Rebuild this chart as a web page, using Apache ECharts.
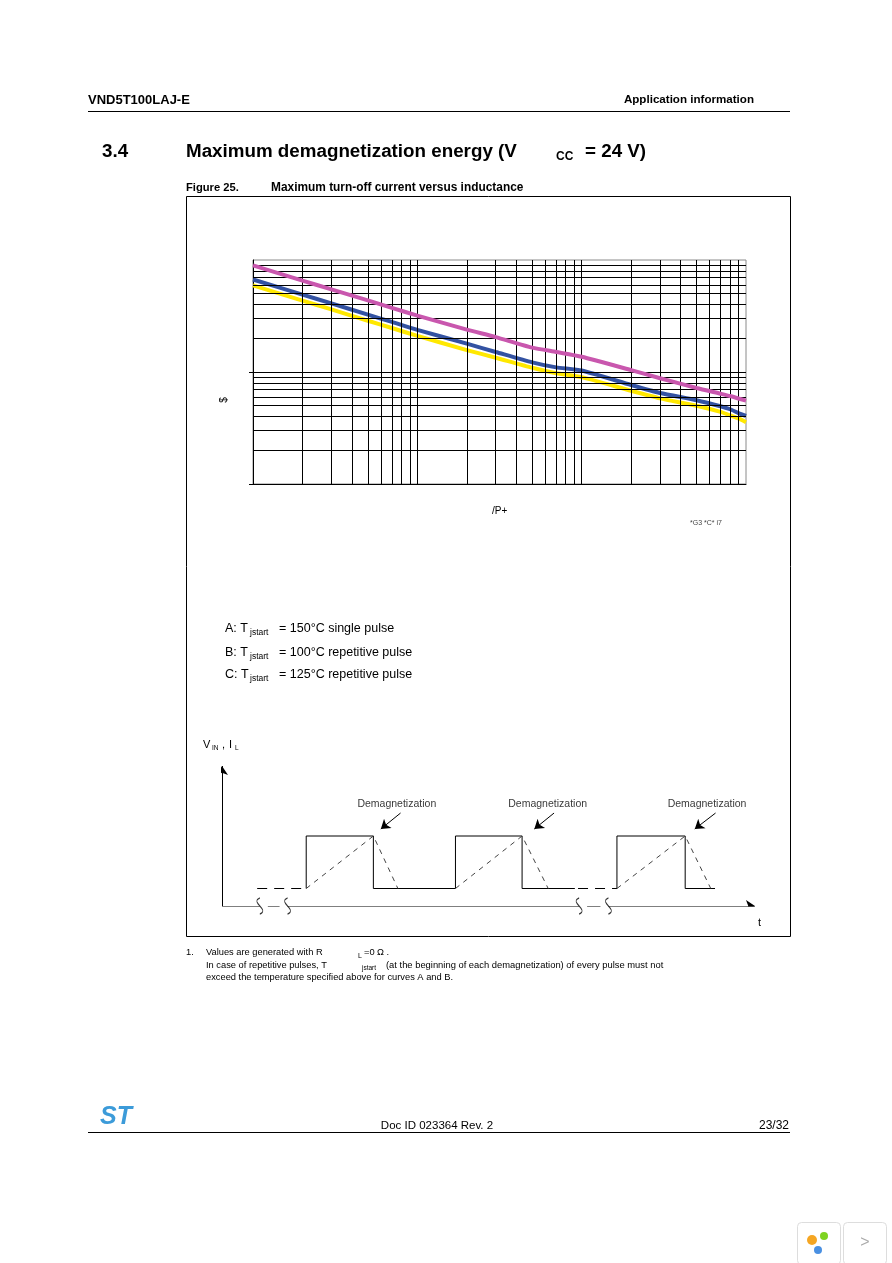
<!DOCTYPE html>
<html><head><meta charset="utf-8">
<script src="https://cdn.jsdelivr.net/npm/echarts@6/dist/echarts.min.js"></script>
<style>html,body{margin:0;padding:0;background:#fff}#c{width:892px;height:1263px}</style>
</head><body><div id="c"></div>
<script>
// ---- Chart data ----
const inductanceMH = [0.1,0.2,0.3,0.5,0.7,1,2,3,5,7,10,20,30,50,70,80,90,100];
const curveA = [89.4,65.5,54.7,43.6,37.4,31.9,23.9,20.5,16.5,15.1,13.7,10.4,8.8,7.2,6.4,6.1,5.8,5.55];
const curveB = [67,49,41,32.5,28,23.8,17.9,15.1,12.2,11.0,10.3,7.65,6.5,5.6,4.95,4.65,4.3,4.05];
const curveC = [59.3,43.4,36.2,28.7,24.7,21,15.7,13.4,10.9,9.75,9.0,6.8,5.82,5.0,4.4,4.1,3.85,3.56];
const seriesNames = ['A','B','C'];
const xGridLines = [0.2,0.3,0.4,0.5,0.6,0.7,0.8,0.9,1,2,3,4,5,6,7,8,9,10,20,30,40,50,60,70,80,90];
const yGridLines = [2,3,4,5,6,7,8,9,10,20,30,40,50,60,70,80,90];
const yTickValues = [1,10];
const legendLines = ['= 150°C single pulse','= 100°C repetitive pulse','= 125°C repetitive pulse'];

// ---- Waveform diagram data (schematic units: t 0..100, level 0..10) ----
const lowLevel = 1.25, highLevel = 5;
const pulseRise = [15.8, 43.8, 74.1];
const pulseFall = [28.4, 56.3, 86.9];
const decayEnd = [33, 61.2, 91.7];
const lowSegEnds = [66.2, 92.5];
const dashedLow = [[6.6,15.8],[66.8,74.1]];
const axisBreaks = [7.1, 12.3, 67, 72.5];
const demagLabelPos = [[32.8,7.3],[61.1,7.3],[91,7.3]];
const demagArrowStart = [[33.5,6.64],[62.3,6.64],[92.6,6.64]];
const demagArrowEnd = [[29.8,5.5],[58.6,5.5],[88.7,5.5]];

const F = 'Liberation Sans, Arial, Helvetica, sans-serif';
const chart = echarts.init(document.getElementById('c'), null, {renderer:'canvas'});

const curveData = [curveA, curveB, curveC].map(arr => inductanceMH.map((x,i)=>[x, arr[i]]));
const curveColors = ['#C957AE','#3352A2','#FFE800'];

const vinSolid = [
  [pulseRise[0],lowLevel],[pulseRise[0],highLevel],[pulseFall[0],highLevel],[pulseFall[0],lowLevel],
  [pulseRise[1],lowLevel],[pulseRise[1],highLevel],[pulseFall[1],highLevel],[pulseFall[1],lowLevel],[lowSegEnds[0],lowLevel],
  null,
  [pulseRise[2],lowLevel],[pulseRise[2],highLevel],[pulseFall[2],highLevel],[pulseFall[2],lowLevel],[lowSegEnds[1],lowLevel]
];
const ilDashed = [];
for (let i=0;i<3;i++){ ilDashed.push([pulseRise[i],lowLevel],[pulseFall[i],highLevel],[decayEnd[i],lowLevel]); if(i<2) ilDashed.push(null); }
const lowDashed = [];
dashedLow.forEach((s,i)=>{ lowDashed.push([s[0],lowLevel],[s[1],lowLevel]); if(i<dashedLow.length-1) lowDashed.push(null); });

function txt(text, x, y, size, opts) {
  opts = opts || {};
  return { type:'text', silent:true, z:10, rotation: opts.rot || 0, x: opts.rot ? x : 0, y: opts.rot ? y : 0,
    style: { text, x: opts.rot ? 0 : x, y: opts.rot ? 0 : y, fill: opts.color || '#000',
      font: (opts.weight||'normal') + ' ' + size + 'px ' + (opts.family || F),
      textAlign: opts.align || 'left', textVerticalAlign: 'middle' } };
}

const graphics = [
  txt('VND5T100LAJ-E', 88, 100, 13, {weight:'bold'}),
  txt('Application information', 754, 100, 11.6, {weight:'bold', align:'right'}),
  { type:'line', silent:true, shape:{x1:88,y1:111.5,x2:790,y2:111.5}, style:{stroke:'#000', lineWidth:1} },
  txt('3.4', 102, 152, 18.8, {weight:'bold'}),
  txt('Maximum demagnetization energy (V', 186, 152, 18.8, {weight:'bold'}),
  txt('CC', 556, 157, 12, {weight:'bold'}),
  txt('= 24 V)', 585, 152, 18.8, {weight:'bold'}),
  txt('Figure 25.', 186, 188, 11.2, {weight:'bold'}),
  txt('Maximum turn-off current versus inductance', 271, 188, 11.9, {weight:'bold'}),
  { type:'rect', silent:true, z:0, shape:{x:186.5,y:196.5,width:604,height:740}, style:{fill:'none', stroke:'#000', lineWidth:1} },
  txt('$', 224, 400, 10, {rot: Math.PI/2, align:'center'}),
  txt('/P+', 492, 511, 10),
  txt('*G3 *C* i7', 690, 523, 7, {color:'#444'}),
  txt('A: T', 225, 629, 12.5), txt('jstart', 250, 633, 8.5), txt(legendLines[0], 279, 629, 12.5),
  txt('B: T', 225, 653, 12.5), txt('jstart', 250, 657, 8.5), txt(legendLines[1], 279, 653, 12.5),
  txt('C: T', 225, 675, 12.5), txt('jstart', 250, 679, 8.5), txt(legendLines[2], 279, 675, 12.5),
  txt('V', 203, 745, 11), txt('IN', 212, 748, 6.5), txt(',', 222, 745, 11), txt('I', 229, 745, 11), txt('L', 235, 748, 6.5),
  txt('t', 758, 923, 11),
  txt('1.', 186, 952, 9.3), txt('Values are generated with R', 206, 952, 9.3), txt('L', 358, 956, 7), txt('=0', 364, 952, 9.3), txt('Ω .', 377, 952, 9.3),
  txt('In case of repetitive pulses, T', 206, 965, 9.3), txt('jstart', 362, 968, 6.5),
  txt('(at the beginning of each demagnetization) of every pulse must not', 386, 965, 9.4),
  txt('exceed the temperature specified above for curves A and B.', 206, 977, 9.3),
  txt('ST', 100, 1117, 25, {weight:'italic bold', color:'#3C9BD9'}),
  txt('Doc ID 023364 Rev. 2', 437, 1126, 11.5, {align:'center'}),
  txt('23/32', 789, 1126, 12, {align:'right'}),
  { type:'line', silent:true, shape:{x1:88,y1:1132.5,x2:790,y2:1132.5}, style:{stroke:'#000', lineWidth:1} },
  { type:'rect', silent:true, shape:{x:797.5,y:1222.5,width:43,height:42,r:4}, style:{fill:'#fff', stroke:'#ddd', lineWidth:1} },
  { type:'rect', silent:true, shape:{x:843.5,y:1222.5,width:43,height:42,r:4}, style:{fill:'#fff', stroke:'#ddd', lineWidth:1} },
  { type:'circle', silent:true, shape:{cx:812,cy:1240,r:5}, style:{fill:'#F5A623'} },
  { type:'circle', silent:true, shape:{cx:824,cy:1236,r:4}, style:{fill:'#7ED321'} },
  { type:'circle', silent:true, shape:{cx:818,cy:1250,r:4}, style:{fill:'#4A90E2'} },
  txt('>', 865, 1243, 16, {align:'center', color:'#aaa'})
];

const option = {
  backgroundColor:'#fff',
  animation:false,
  grid:[
    {left:253, top:260, width:493, height:224, show:true, borderColor:'#8a8a8a', borderWidth:1, backgroundColor:'transparent'},
    {left:222, top:766, width:533, height:140, show:false}
  ],
  xAxis:[
    {gridIndex:0, type:'log', logBase:10, min:0.1, max:100, axisLine:{show:true, lineStyle:{color:'#000', width:1}}, axisTick:{show:false}, axisLabel:{show:false}, splitLine:{show:false}},
    {gridIndex:1, type:'value', min:0, max:100, show:false}
  ],
  yAxis:[
    {gridIndex:0, type:'log', logBase:10, min:1, max:100, axisLine:{show:true, lineStyle:{color:'#000', width:1}}, axisTick:{show:false}, axisLabel:{show:false}, splitLine:{show:false}},
    {gridIndex:1, type:'value', min:0, max:10, show:false}
  ],
  graphic:{elements:graphics},
  series:[
    { name:'grid', type:'line', xAxisIndex:0, yAxisIndex:0, data:[[0.1,1]], showSymbol:false, z:1, silent:true,
      lineStyle:{width:0},
      markLine:{ silent:true, symbol:['none','none'], label:{show:false}, animation:false,
        lineStyle:{color:'#000', width:1, type:'solid'},
        emphasis:{disabled:true},
        data: xGridLines.map(v=>({xAxis:v})).concat(yGridLines.map(v=>({yAxis:v})))
          .concat(yTickValues.map(v=>[{coord:[0.1,v], x:249},{coord:[0.1,v]}])) } },
    { name:seriesNames[2], type:'line', data:curveData[2], smooth:0.2, showSymbol:false, z:3, lineStyle:{color:curveColors[2], width:4}, itemStyle:{color:curveColors[2]} },
    { name:seriesNames[1], type:'line', data:curveData[1], smooth:0.2, showSymbol:false, z:4, lineStyle:{color:curveColors[1], width:4}, itemStyle:{color:curveColors[1]} },
    { name:seriesNames[0], type:'line', data:curveData[0], smooth:0.2, showSymbol:false, z:5, lineStyle:{color:curveColors[0], width:4}, itemStyle:{color:curveColors[0]} },
    { type:'line', xAxisIndex:1, yAxisIndex:1, data:vinSolid, showSymbol:false, connectNulls:false, lineStyle:{color:'#000', width:1}, silent:true },
    { type:'line', xAxisIndex:1, yAxisIndex:1, data:lowDashed, showSymbol:false, connectNulls:false, lineStyle:{color:'#000', width:1, type:[10,7]}, silent:true },
    { type:'line', xAxisIndex:1, yAxisIndex:1, data:ilDashed, showSymbol:false, connectNulls:false, lineStyle:{color:'#444', width:1, type:[5,5]}, silent:true },
    { type:'lines', coordinateSystem:'cartesian2d', xAxisIndex:1, yAxisIndex:1, silent:true, symbol:['none','arrow'], symbolSize:9,
      lineStyle:{color:'#000', width:1, opacity:1, curveness:0},
      data:[ {coords:[[0,0],[0,10]]}, {coords:[[axisBreaks[3],0],[100,0]]} ]
        .concat(demagArrowStart.map((s,i)=>({coords:[s, demagArrowEnd[i]]}))) },
    { type:'lines', coordinateSystem:'cartesian2d', xAxisIndex:1, yAxisIndex:1, silent:true, symbol:['none','none'],
      lineStyle:{color:'#000', width:1, opacity:1, curveness:0},
      data:[ {coords:[[0,0],[axisBreaks[0],0]]}, {coords:[[axisBreaks[1],0],[axisBreaks[2],0]]},
             {coords:[[axisBreaks[0]+1.5,0],[axisBreaks[1]-1.5,0]]}, {coords:[[axisBreaks[2]+1.5,0],[axisBreaks[3]-1.5,0]]} ] },
    { type:'scatter', xAxisIndex:1, yAxisIndex:1, silent:true, data:axisBreaks.map(t=>[t,0]),
      symbol:'path://M4,0 C0,4 8,10 4,14', symbolSize:[6,16],
      itemStyle:{color:'rgba(0,0,0,0)', borderColor:'#000', borderWidth:1} },
    { type:'scatter', xAxisIndex:1, yAxisIndex:1, silent:true, symbolSize:0,
      data:demagLabelPos.map(p=>({value:p, name:'Demagnetization'})),
      label:{show:true, position:'inside', formatter:'{b}', color:'#000', fontFamily:F, fontSize:10.5} }
  ]
};
chart.setOption(option);
</script></body></html>
